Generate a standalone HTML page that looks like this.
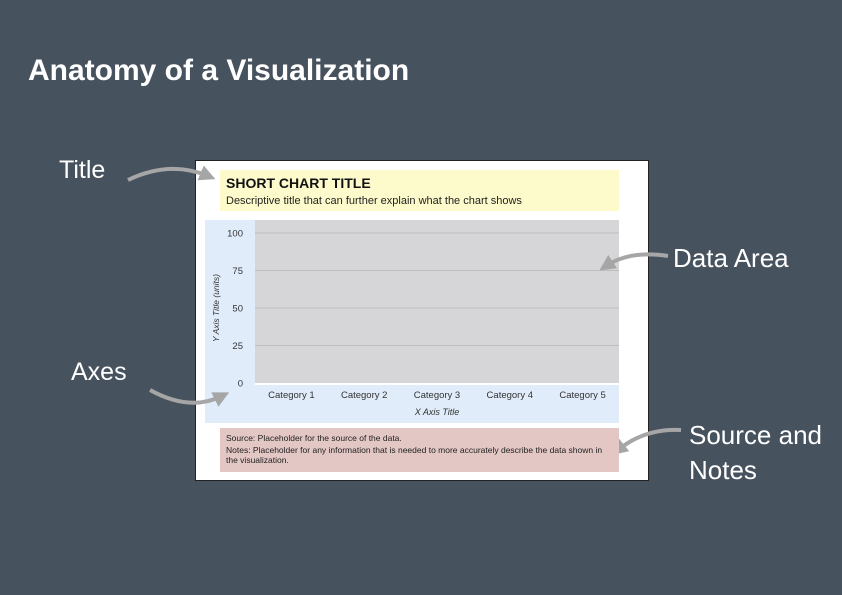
<!DOCTYPE html>
<html><head><meta charset="utf-8"><style>
body{margin:0;width:842px;height:595px;background:#47525f;font-family:"Liberation Sans",sans-serif;overflow:hidden;position:relative}
.a{position:absolute}
</style></head><body>
<div class="a" style="left:28px;top:54px;color:#fff;font-size:30px;font-weight:bold">Anatomy of a Visualization</div>
<div class="a" style="left:59px;top:156px;color:#fff;font-size:25px">Title</div>
<div class="a" style="left:71px;top:358px;color:#fff;font-size:25px">Axes</div>
<div class="a" style="left:673px;top:243px;color:#fff;font-size:26px">Data Area</div>
<div class="a" style="left:689px;top:418px;color:#fff;font-size:26px;line-height:35px">Source and<br>Notes</div>
<div class="a" style="left:195px;top:160px;width:452px;height:319px;background:#fff;border:1px solid #222"></div>
<div class="a" style="left:220px;top:170px;width:399px;height:41px;background:#fdfbcb">
 <div class="a" style="left:6px;top:5px;font-size:14px;font-weight:bold;color:#111">SHORT CHART TITLE</div>
 <div class="a" style="left:6px;top:25px;font-size:11px;color:#222">Descriptive title that can further explain what the chart shows</div>
</div>
<div class="a" style="left:205px;top:220px;width:414px;height:203px;background:#e0ecfa"></div>
<svg class="a" style="left:0;top:0" width="842" height="595">
<g id="g"></g>
<defs><marker id="ah" markerWidth="4" markerHeight="4" refX="2" refY="2" orient="auto"><path d="M0,0L4,2L0,4z" fill="#a6a6a6"/></marker></defs>
<path d="M128,180 Q170,160 208,176" stroke="#a6a6a6" stroke-width="4" fill="none" marker-end="url(#ah)"/>
<path d="M668,256 Q630,250 606,266" stroke="#a6a6a6" stroke-width="4" fill="none" marker-end="url(#ah)"/>
<path d="M150,390 Q190,412 222,396" stroke="#a6a6a6" stroke-width="4" fill="none" marker-end="url(#ah)"/>
<path d="M681,430 Q645,428 618,450" stroke="#a6a6a6" stroke-width="4" fill="none" marker-end="url(#ah)"/>
</svg>
<div class="a" style="left:220px;top:428px;width:399px;height:44px;background:#e3c7c5;font-size:8.5px;color:#222;line-height:10px">
 <div class="a" style="left:6px;top:5px">Source: Placeholder for the source of the data.</div>
 <div class="a" style="left:6px;top:17px;width:380px">Notes: Placeholder for any information that is needed to more accurately describe the data shown in the visualization.</div>
</div>
<script>
const categories=["Category 1","Category 2","Category 3","Category 4","Category 5"];
const yTicks=[0,25,50,75,100];
const NS="http://www.w3.org/2000/svg";
const g=document.getElementById('g');
const X0=255,X1=619,Y0=383,Y1=233;
const y=v=>Y0-(v/100)*(Y0-Y1);
const x=i=>X0+(i+0.5)*(X1-X0)/categories.length;
function mk(t,a){const e=document.createElementNS(NS,t);for(const k in a)e.setAttribute(k,a[k]);g.appendChild(e);return e;}
const bg=mk('rect',{x:X0,y:220,width:X1-X0,height:Y0-220,fill:'#d6d6d8'});


yTicks.forEach(v=>{
 if(v>0){const l=mk('line',{x1:X0,x2:X1,y1:y(v),y2:y(v),stroke:'#bdbdbf','stroke-width':1});
 
 }
 const t=mk('text',{x:243,y:y(v)+3.5,'text-anchor':'end','font-size':9.5,fill:'#333','font-family':'Liberation Sans'});
 t.textContent=v;
 
 
});
const base=mk('line',{x1:X0,x2:X1,y1:Y0+1,y2:Y0+1,stroke:'#fff','stroke-width':2});


categories.forEach((c,i)=>{
 const t=mk('text',{x:x(i),y:398,'text-anchor':'middle','font-size':9.5,fill:'#333','font-family':'Liberation Sans'});
 t.textContent=c;
 
 
});
const xt=mk('text',{x:437,y:415,'text-anchor':'middle','font-size':9,'font-style':'italic',fill:'#333','font-family':'Liberation Sans'});
xt.textContent='X Axis Title';


const yt=mk('text',{x:0,y:0,transform:'translate(219,308) rotate(-90)','text-anchor':'middle','font-size':8.5,'font-style':'italic',fill:'#333','font-family':'Liberation Sans'});
yt.textContent='Y Axis Title (units)';


</script>
</body></html>
